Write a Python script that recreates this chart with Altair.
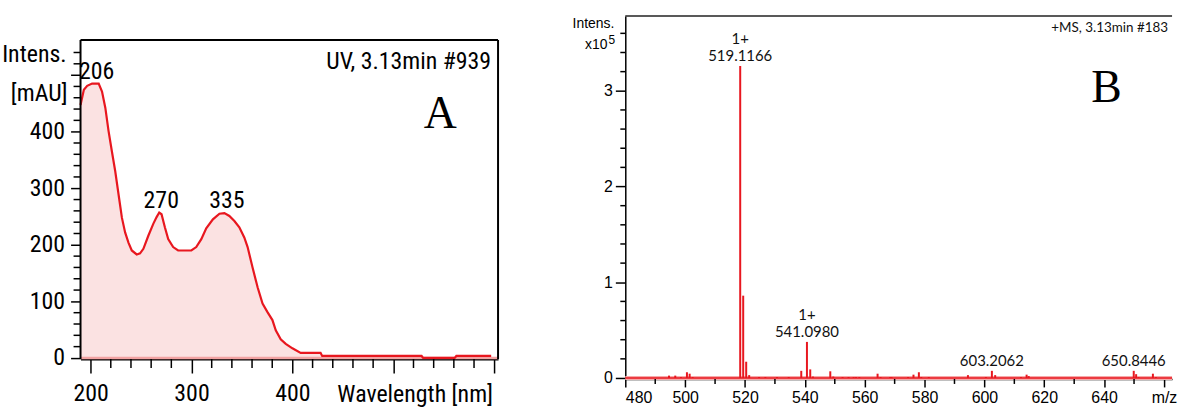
import altair as alt
import pandas as pd

# ---------------- Panel A: UV spectrum ----------------
uv_nm = [190, 193.3, 196.6, 201.5, 208, 211.3, 214.6, 217.8, 221.1, 224.4, 227.7, 231, 234.2,
         237.5, 240.8, 245.7, 249, 252.3, 257.2, 262.1, 265.4, 268, 270.3, 273.6, 276.9, 281.8,
         286.7, 299.8, 304.7, 309.7, 314.6, 321.2, 327.7, 332.6, 337.5, 342.5, 347.4, 352.3,
         355.6, 360.5, 365.5, 370.4, 375.3, 380.2, 383.5, 388.4, 393.4, 400, 408.2, 427.9,
         429.5, 528, 529.6, 560.8, 562.5, 597]
uv_mau = [447, 474, 481, 485, 485, 471, 442, 401, 365, 330, 289, 248, 222,
          204, 190, 183, 185, 193, 216, 237, 249, 257, 254, 231, 210, 196,
          190, 190, 196, 210, 229, 245, 255, 256, 251, 242, 231, 213,
          196, 160, 125, 96, 81, 67, 49, 33, 25, 17, 9, 9,
          3.5, 3.5, 0, 0, 3.5, 3.5]
uv_peak_nm = [206, 270, 335]
uv_peak_mau = [485, 257, 257]
uv_peak_text = ["206", "270", "335"]
uv_major_x = [200, 300, 400, 500, 600]
uv_minor_x = [220, 240, 260, 280, 320, 340, 360, 380, 420, 440, 460, 480, 520, 540, 560, 580]
uv_major_y = [0, 100, 200, 300, 400, 500]
uv_minor_y = [20, 40, 60, 80, 120, 140, 160, 180, 220, 240, 260, 280, 320, 340, 360, 380,
              420, 440, 460, 480, 520, 540]

# ---------------- Panel B: mass spectrum ----------------
ms_mz = [494.6, 496.7, 498.6, 500.6, 501.5, 502.5, 518.4, 519.4, 520.4, 521.4,
         524.7, 526.8, 530.7, 534.6, 538.8, 540.7, 541.8, 542.7, 548.5, 549.5,
         552.6, 554.6, 556.3, 557.1, 558.2, 564.3, 565.3, 568.5, 569.0, 574.5,
         576.3, 578.1, 578.9, 581.4, 594.5, 600.5, 602.5, 603.6, 612.2, 614.1,
         614.8, 649.9, 650.7, 651.5, 656.3, 657.3]
ms_int = [0.025, 0.025, 0.01, 0.06, 0.045, 0.01, 3.26, 0.86, 0.17, 0.03,
          0.01, 0.01, 0.01, 0.01, 0.075, 0.377, 0.09, 0.015, 0.07, 0.015,
          0.01, 0.01, 0.01, 0.01, 0.01, 0.045, 0.01, 0.01, 0.01, 0.01,
          0.035, 0.06, 0.01, 0.01, 0.03, 0.01, 0.075, 0.03, 0.01, 0.035,
          0.02, 0.075, 0.04, 0.01, 0.045, 0.01]
ms_lab_mz = [518.4, 540.7, 602.5, 649.9]
ms_lab_int = [3.26, 0.377, 0.075, 0.075]
ms_lab_num = ["519.1166", "541.0980", "603.2062", "650.8446"]
ms_lab_charge = ["1+", "1+", "", ""]
ms_major_x = [480, 500, 520, 540, 560, 580, 600, 620, 640, 660]
ms_minor_x = [490, 510, 530, 550, 570, 590, 610, 630, 650]
ms_major_y = [0, 1, 2, 3]
ms_minor_y = [0.2, 0.4, 0.6, 0.8, 1.2, 1.4, 1.6, 1.8, 2.2, 2.4, 2.6, 2.8, 3.2, 3.4, 3.6]

RED = "#e8171f"
NARROW = "'Liberation Sans Narrow', 'Noto Sans Condensed', 'Roboto Condensed', 'DejaVu Sans Condensed', 'Liberation Sans', sans-serif"
SANS = "Liberation Sans"
FS_A = 24

one = pd.DataFrame({"a": [0]})

# ---------------- build A ----------------
WA, HA = 420, 345
uv = pd.DataFrame({"nm": uv_nm, "mau": uv_mau})
xA_scale = alt.Scale(domain=[190, 603.8], nice=False, zero=False)
yA_scale = alt.Scale(domain=[-2, 604.3], nice=False, zero=False)
xA_axis = alt.Axis(values=uv_major_x, labelExpr="datum.value <= 400 ? datum.label : ''",
                   tickSize=14, tickWidth=1.5, tickColor="#000", domainColor="#000",
                   domainWidth=2, labelFont=NARROW, labelFontSize=FS_A, labelColor="#000",
                   labelPadding=9, title=None, grid=False)
yA_axis = alt.Axis(values=uv_major_y, labelExpr="datum.value <= 400 ? datum.label : ''",
                   tickSize=10, tickWidth=1.5, tickColor="#000", domain=False,
                   labelFont=NARROW, labelFontSize=FS_A, labelColor="#000",
                   labelPadding=6, title=None, grid=False)
xA = alt.X("nm:Q", scale=xA_scale, axis=xA_axis)
yA = alt.Y("mau:Q", scale=yA_scale, axis=yA_axis)

# invisible anchor fixing the chart's left edge
anchor_a = alt.Chart(one).mark_rule(color="white", strokeWidth=0.5).encode(
    x=alt.value(-80), x2=alt.value(-79.5), y=alt.value(100))

area = alt.Chart(uv).mark_area(color="#fbe2e2", opacity=1).encode(x=xA, y=yA)
base_a = alt.Chart(pd.DataFrame({"nm": [190, 603.8], "mau": [0, 0]})).mark_line(
    color="#f2a3a3", strokeWidth=2.5).encode(x=xA, y=yA)
line = alt.Chart(uv).mark_line(color=RED, strokeWidth=2.2).encode(x=xA, y=yA)
peaks_a = alt.Chart(pd.DataFrame({"nm": uv_peak_nm, "mau": uv_peak_mau, "t": uv_peak_text})).mark_text(
    font=NARROW, fontSize=FS_A, color="#000", baseline="alphabetic", dy=-5).encode(x=xA, y=yA, text="t:N")
minx_a = alt.Chart(pd.DataFrame({"nm": uv_minor_x})).mark_rule(color="#000", strokeWidth=1.5).encode(
    x=xA, y=alt.value(HA), y2=alt.value(HA + 9))
miny_a = alt.Chart(pd.DataFrame({"mau": uv_minor_y})).mark_rule(color="#000", strokeWidth=1.5).encode(
    y=yA, x=alt.value(-7), x2=alt.value(0))
frame_top = alt.Chart(one).mark_rule(color="#000", strokeWidth=2).encode(
    x=alt.value(0), x2=alt.value(WA), y=alt.value(24))
frame_left = alt.Chart(one).mark_rule(color="#000", strokeWidth=2).encode(
    x=alt.value(0), y=alt.value(24), y2=alt.value(HA))
frame_right = alt.Chart(one).mark_rule(color="#000", strokeWidth=2).encode(
    x=alt.value(WA), y=alt.value(24), y2=alt.value(HA))
txt_a = alt.Chart(pd.DataFrame({
    "t": ["Intens.", "[mAU]", "UV, 3.13min #939", "Wavelength [nm]"],
    "px": [-14, -13, 413, 415], "py": [39, 78, 46, 381]})).mark_text(
    font=NARROW, fontSize=FS_A, color="#000", align="right", baseline="middle").encode(
    x=alt.X("px:Q", scale=None), y=alt.Y("py:Q", scale=None), text="t:N")
letter_a = alt.Chart(pd.DataFrame({"t": ["A"]})).mark_text(
    font="Liberation Serif", fontSize=46, color="#000", baseline="middle").encode(
    x=alt.value(362), y=alt.value(99), text="t:N")

chartA = alt.layer(anchor_a, area, base_a, line, peaks_a, minx_a, miny_a, frame_top, frame_left,
                   frame_right, txt_a, letter_a).properties(width=WA, height=HA)

# ---------------- build B ----------------
WB, HB = 550, 365
ms = pd.DataFrame({"mz": ms_mz, "i": ms_int})
xB_scale = alt.Scale(domain=[480, 662.7], nice=False, zero=False)
yB_scale = alt.Scale(domain=[-0.01, 3.78], nice=False, zero=False)
xB_axis = alt.Axis(values=ms_major_x, labelExpr="datum.value == 660 ? 'm/z' : datum.label",
                   tickSize=8, tickWidth=1.5, tickColor="#000", domainColor="#000",
                   domainWidth=1.5, labelFont=SANS, labelFontSize=16, labelColor="#000",
                   labelPadding=3, title=None, grid=False)
yB_axis = alt.Axis(values=ms_major_y, tickSize=10, tickWidth=1.5, tickColor="#000",
                   domainColor="#000", domainWidth=1.5, labelFont=SANS, labelFontSize=16,
                   labelColor="#000", labelPadding=3, title=None, grid=False)
xB = alt.X("mz:Q", scale=xB_scale, axis=xB_axis)
yB = alt.Y("i:Q", scale=yB_scale, axis=yB_axis)

anchor_b = alt.Chart(one).mark_rule(color="white", strokeWidth=0.5).encode(
    x=alt.value(200), y=alt.value(-14), y2=alt.value(-13.5))
base_b1 = alt.Chart(pd.DataFrame({"mz": [480, 662.7], "i": [0, 0]})).mark_line(
    color="#f6a9a9", strokeWidth=4).encode(x=xB, y=yB)
base_b2 = alt.Chart(pd.DataFrame({"mz": [480, 662.7], "i": [0, 0]})).mark_line(
    color=RED, strokeWidth=1.5).encode(x=xB, y=yB)
bars = alt.Chart(ms).mark_rule(color=RED, strokeWidth=2).encode(
    x=xB, y=yB, y2=alt.datum(0))
labs = pd.DataFrame({"mz": ms_lab_mz, "i": ms_lab_int, "n": ms_lab_num, "c": ms_lab_charge})
lab_num = alt.Chart(labs).mark_text(font="Lato", fontSize=15, color="#111",
                                    baseline="alphabetic", dy=-5).encode(x=xB, y=yB, text="n:N")
lab_chg = alt.Chart(labs).mark_text(font="Lato", fontSize=15, color="#111",
                                    baseline="alphabetic", dy=-22).encode(x=xB, y=yB, text="c:N")
minx_b = alt.Chart(pd.DataFrame({"mz": ms_minor_x})).mark_rule(color="#000", strokeWidth=1.5).encode(
    x=xB, y=alt.value(HB), y2=alt.value(HB + 5))
miny_b = alt.Chart(pd.DataFrame({"i": ms_minor_y})).mark_rule(color="#000", strokeWidth=1.5).encode(
    y=yB, x=alt.value(-5), x2=alt.value(0))
frame_top_b = alt.Chart(one).mark_rule(color="#222", strokeWidth=1.5).encode(
    x=alt.value(0), x2=alt.value(WB), y=alt.value(0))
txt_b = alt.Chart(pd.DataFrame({
    "t": ["Intens.", "x10"], "px": [-11, -18], "py": [8, 29]})).mark_text(
    font=SANS, fontSize=14, color="#000", align="right", baseline="middle").encode(
    x=alt.X("px:Q", scale=None), y=alt.Y("py:Q", scale=None), text="t:N")
sup_b = alt.Chart(pd.DataFrame({"t": ["5"]})).mark_text(
    font=SANS, fontSize=12, color="#000", align="left", baseline="middle").encode(
    x=alt.value(-17), y=alt.value(24), text="t:N")
ms_title = alt.Chart(pd.DataFrame({"t": ["+MS, 3.13min #183"]})).mark_text(
    font="Lato", fontSize=13.5, color="#111", align="right", baseline="middle").encode(
    x=alt.value(546), y=alt.value(12), text="t:N")
letter_b = alt.Chart(pd.DataFrame({"t": ["B"]})).mark_text(
    font="Liberation Serif", fontSize=46, color="#000", baseline="middle").encode(
    x=alt.value(484), y=alt.value(72), text="t:N")

chartB = alt.layer(anchor_b, base_b1, bars, base_b2, lab_num, lab_chg, minx_b, miny_b, frame_top_b,
                   txt_b, sup_b, ms_title, letter_b).properties(width=WB, height=HB)

chart = alt.hconcat(chartA, chartB, spacing=128, bounds="flush").properties(
    padding={"left": 0, "top": 0, "right": 0, "bottom": 0},
).configure(background="white", view=alt.ViewConfig(strokeWidth=0))

chart.save("out.html", embed_options={"renderer": "svg", "actions": False})
